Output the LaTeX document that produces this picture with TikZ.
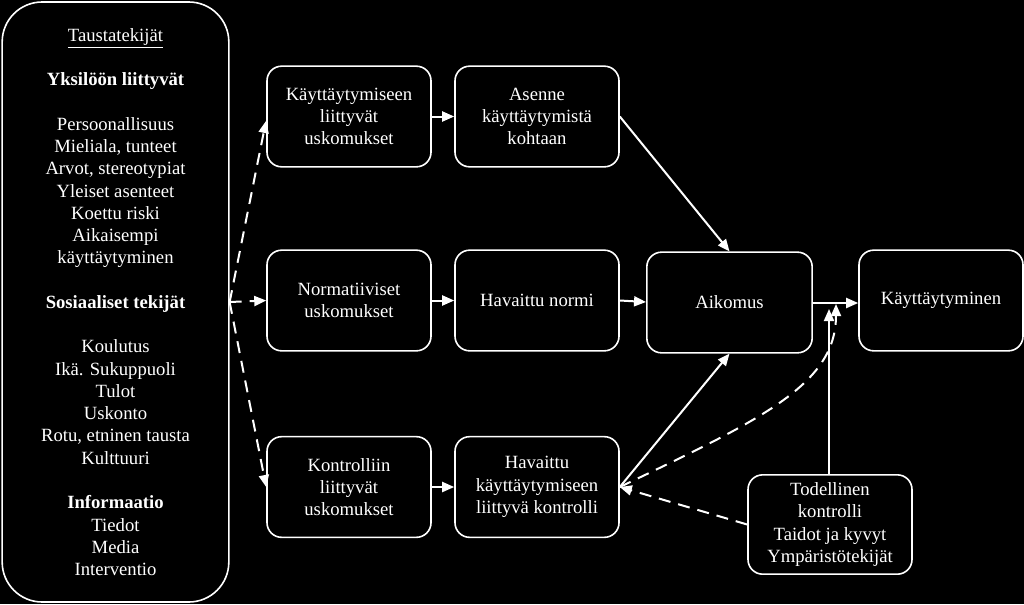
\documentclass[tikz,border=0pt]{standalone}
\usepackage{fontspec}
\setmainfont{Liberation Serif}
\usetikzlibrary{arrows.meta}

\begin{document}
\begin{tikzpicture}[x=0.75pt, y=-0.75pt, white,
    line width=1.5pt, >={Triangle[length=9pt,width=7.5pt]},
    font=\fontsize{14}{16.7}\selectfont,
    box/.style={draw, line width=1.2pt, rounded corners=11pt, align=center,
                minimum width=123pt, minimum height=75.5pt, inner sep=2pt},
    dashline/.style={dash pattern=on 9pt off 6pt}]
      \fill[black] (0, 0) rectangle (1024, 604);
      \useasboundingbox (0, 0) rectangle (1024, 604);
      % taustatekijat
      \node[draw, line width=1.2pt, rounded corners=30pt, align=center,
            minimum width=170pt, minimum height=450pt] (tausta) at (115.5, 302)
            {\underline{Taustatekijät}\\[16.7pt]
             \textbf{Yksilöön liittyvät}\\[16.7pt]
             Persoonallisuus\\ Mieliala, tunteet\\ Arvot, stereotypiat\\
             Yleiset asenteet\\ Koettu riski\\ Aikaisempi\\ käyttäytyminen\\[16.7pt]
             \textbf{Sosiaaliset tekijät}\\[16.7pt]
             Koulutus\\ Ikä. Sukuppuoli\\ Tulot\\ Uskonto\\
             Rotu, etninen tausta\\ Kulttuuri\\[16.7pt]
             \textbf{Informaatio}\\ Tiedot\\ Media\\ Interventio};
      % uskomukset
      \node[box] (kusk) at (349, 116.5) {Käyttäytymiseen\\ liittyvät\\ uskomukset};
      \node[box] (nusk) at (349, 300.5) {Normatiiviset\\ uskomukset};
      \node[box] (kontr) at (349, 487) {Kontrolliin\\ liittyvät\\ uskomukset};
      \node[box] (asenne) at (537, 116.5) {Asenne\\ käyttäytymistä\\ kohtaan};
      \node[box] (normi) at (537, 300.5) {Havaittu normi};
      \node[box] (hkontr) at (537, 487) {Havaittu\\ käyttäytymiseen\\ liittyvä kontrolli};
      \node[box, minimum width=124pt] (aikomus) at (729.5, 302.5) {Aikomus};
      \node[box] (kaytt) at (941, 300.5) {Käyttäytyminen};
      \node[box, minimum height=74.5pt] (todell) at (830, 524.5)
            {Todellinen\\ kontrolli\\ Taidot ja kyvyt\\ Ympäristötekijät};
      \coordinate (m1) at (829, 309);
      \coordinate (m2) at (836, 304);
      % nuolet
      \draw[->, dashline] (tausta.east) -- (266, 121);
      \draw[->, dashline] (tausta.east) -- (nusk.west);
      \draw[->, dashline] (tausta.east) -- (kontr.west);
      \draw[->] (kusk) -- (asenne);
      \draw[->] (nusk) -- (normi);
      \draw[->] (kontr) -- (hkontr);
      \draw[->] (asenne.east) -- (aikomus.north);
      \draw[->] (normi.east) -- (aikomus.west |- 0, 302);
      \draw[->] (hkontr.east) -- (aikomus.south);
      \draw[->] (aikomus.east |- 0, 303) -- (kaytt.west |- 0, 303);
      \draw[->] (todell.north -| m1) -- (m1);
      \draw[->, dashline] (todell.west) -- (hkontr.east);
      \draw[->, dashline] (hkontr.east) .. controls (760, 420) and (836, 385) .. (m2);
    \end{tikzpicture}
\end{document}
